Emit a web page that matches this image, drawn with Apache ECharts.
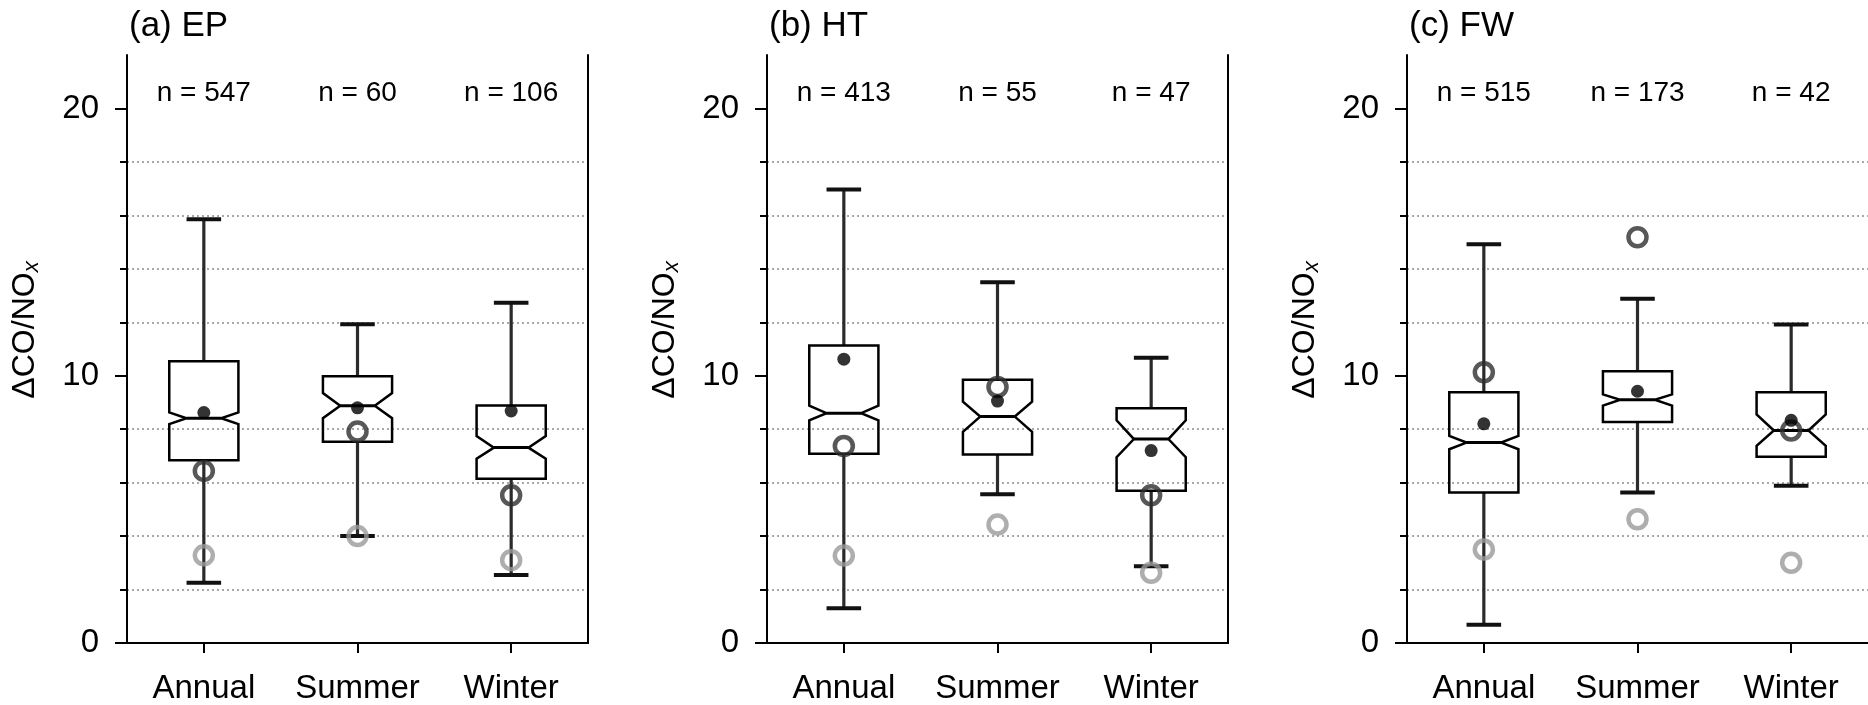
<!DOCTYPE html>
<html>
<head>
<meta charset="utf-8">
<script src="https://cdn.jsdelivr.net/npm/echarts@6/dist/echarts.min.js"></script>
<style>
  html, body { margin: 0; padding: 0; background: #fff; }
  #chart { width: 1868px; height: 705px; }
</style>
</head>
<body>
<div id="chart"></div>
<script>
// Seasonal ΔCO/NOx distributions for three site types (EP, HT, FW)
const categories = ['Annual', 'Summer', 'Winter'];
const panelTitles = ['(a) EP', '(b) HT', '(c) FW'];
const yTickLabels = [0, 10, 20];
const yMinorTicks = [2, 4, 6, 8, 12, 14, 16, 18];

// per panel: [Annual, Summer, Winter]
const sampleCounts = [[547, 60, 106], [413, 55, 47], [515, 173, 42]];
const whiskerLow   = [[2.25, 4.00, 2.54], [1.30, 5.57, 2.87], [0.68, 5.63, 5.88]];
const quartile1    = [[6.84, 7.53, 6.15], [7.08, 7.05, 5.70], [5.63, 8.27, 6.97]];
const medians      = [[8.41, 8.88, 7.31], [8.60, 8.47, 7.63], [7.50, 9.10, 7.95]];
const quartile3    = [[10.54, 9.98, 8.89], [11.13, 9.85, 8.78], [9.38, 10.17, 9.38]];
const whiskerHigh  = [[15.85, 11.93, 12.73], [16.97, 13.50, 10.67], [14.92, 12.88, 11.92]];
const notchLow     = [[8.19, 8.41, 6.90], [8.33, 7.90, 6.95], [7.25, 8.88, 7.38]];
const notchHigh    = [[8.63, 9.35, 7.74], [8.88, 9.03, 8.33], [7.75, 9.30, 8.55]];
const means        = [[8.62, 8.80, 8.68], [10.62, 9.05, 7.20], [8.20, 9.42, 8.33]];
const ratioDark    = [[6.44, 7.91, 5.53], [7.37, 9.58, 5.53], [10.13, 15.18, 7.95]];
const ratioGray    = [[3.28, 4.00, 3.10], [3.27, 4.43, 2.63], [3.50, 4.63, 3.00]];

const FONT = '"Liberation Sans", Arial, Helvetica, sans-serif';
const panelLeft = [127, 767, 1407];
const panelWidth = 461;
const panelTop = 55;
const panelHeight = 594;
const BOX_WIDTH = 0.45;

function renderBox(params, api) {
  const i = api.value(0);
  const y = v => api.coord([i, v])[1];
  const cx = api.coord([i, api.value(3)])[0];
  const band = api.size([1, 0])[0];
  const hw = band * BOX_WIDTH / 2;
  const nw = hw / 2;
  const yLo = y(api.value(1)), yQ1 = y(api.value(2)), yMed = y(api.value(3));
  const yQ3 = y(api.value(4)), yHi = y(api.value(5));
  const yNlo = y(api.value(6)), yNhi = y(api.value(7));
  const n = api.value(8);
  const whisker = { stroke: '#2b2b2b', lineWidth: 3.2 };
  const cap = { stroke: '#111', lineWidth: 4 };
  return {
    type: 'group',
    children: [
      { type: 'line', shape: { x1: cx, y1: yQ3, x2: cx, y2: yHi }, style: whisker },
      { type: 'line', shape: { x1: cx, y1: yQ1, x2: cx, y2: yLo }, style: whisker },
      { type: 'line', shape: { x1: cx - nw, y1: yHi, x2: cx + nw, y2: yHi }, style: cap },
      { type: 'line', shape: { x1: cx - nw, y1: yLo, x2: cx + nw, y2: yLo }, style: cap },
      {
        type: 'polygon',
        shape: {
          points: [
            [cx - hw, yQ1], [cx + hw, yQ1], [cx + hw, yNlo], [cx + nw, yMed],
            [cx + hw, yNhi], [cx + hw, yQ3], [cx - hw, yQ3], [cx - hw, yNhi],
            [cx - nw, yMed], [cx - hw, yNlo]
          ]
        },
        style: { fill: 'none', stroke: '#000', lineWidth: 2.5, lineJoin: 'miter' }
      },
      { type: 'line', shape: { x1: cx - nw, y1: yMed, x2: cx + nw, y2: yMed }, style: { stroke: '#000', lineWidth: 3 } },
      {
        type: 'text',
        style: {
          text: 'n = ' + n, x: cx, y: params.coordSys.y + 38,
          align: 'center', verticalAlign: 'middle',
          fontSize: 28, fontFamily: FONT, fill: '#000'
        }
      }
    ]
  };
}

const grid = [], xAxis = [], yAxis = [], series = [], title = [];

for (let k = 0; k < 3; k++) {
  grid.push({ left: panelLeft[k], top: panelTop, width: panelWidth, height: panelHeight, containLabel: false });

  title.push({
    text: panelTitles[k], left: panelLeft[k] - 3, top: 4,
    textStyle: { fontSize: 35, fontWeight: 'normal', color: '#000', fontFamily: FONT }
  });

  const xi = xAxis.length;
  xAxis.push({
    gridIndex: k, type: 'category', data: categories, position: 'bottom', boundaryGap: true,
    axisLine: { show: true, lineStyle: { color: '#000', width: 2 } },
    axisTick: { show: true, alignWithLabel: true, length: 10, lineStyle: { color: '#000', width: 2 } },
    axisLabel: { interval: 0, hideOverlap: false, fontSize: 33, color: '#000', margin: 29, fontFamily: FONT },
    splitLine: { show: false }
  });
  xAxis.push({
    gridIndex: k, type: 'category', data: categories, position: 'top',
    axisLine: { show: true, lineStyle: { color: '#000', width: 2 } },
    axisTick: { show: false }, axisLabel: { show: false }, splitLine: { show: false }
  });

  const yi = yAxis.length;
  yAxis.push({
    gridIndex: k, type: 'value', min: 0, max: 22, interval: 2, position: 'left',
    name: '{m|ΔCO/NO}{s|x}', nameLocation: 'middle', nameRotate: 90, nameGap: 84,
    nameTextStyle: {
      color: '#000', fontFamily: FONT, padding: [0, 0, 0, 38],
      rich: {
        m: { fontSize: 32, fontFamily: FONT, color: '#000', verticalAlign: 'top', lineHeight: 34 },
        s: { fontSize: 22, fontFamily: FONT, color: '#000', fontStyle: 'italic', verticalAlign: 'bottom', lineHeight: 22 }
      }
    },
    axisLine: { show: true, lineStyle: { color: '#000', width: 2 } },
    axisTick: { show: true, length: 7, customValues: yMinorTicks, lineStyle: { color: '#000', width: 2 } },
    axisLabel: { customValues: yTickLabels, fontSize: 33, color: '#000', margin: 28, fontFamily: FONT },
    splitLine: { show: true, lineStyle: { type: [2, 3], color: '#8c8c8c', width: 1.5 } }
  });
  yAxis.push({
    gridIndex: k, type: 'value', min: 0, max: 22, position: 'left',
    axisLine: { show: false },
    axisTick: { show: true, length: 12, customValues: yTickLabels, lineStyle: { color: '#000', width: 2 } },
    axisLabel: { show: false }, splitLine: { show: false }
  });
  if (k < 2) {
    yAxis.push({
      gridIndex: k, type: 'value', min: 0, max: 22, position: 'right',
      axisLine: { show: true, lineStyle: { color: '#000', width: 2 } },
      axisTick: { show: false }, axisLabel: { show: false }, splitLine: { show: false }
    });
  }

  const boxData = categories.map((c, i) => [
    i, whiskerLow[k][i], quartile1[k][i], medians[k][i], quartile3[k][i], whiskerHigh[k][i],
    notchLow[k][i], notchHigh[k][i], sampleCounts[k][i]
  ]);
  series.push({
    type: 'custom', xAxisIndex: xi, yAxisIndex: yi, renderItem: renderBox,
    data: boxData, encode: { x: 0, y: [1, 2, 3, 4, 5] }, z: 3, silent: true
  });
  series.push({
    type: 'scatter', xAxisIndex: xi, yAxisIndex: yi, symbol: 'circle', symbolSize: 18,
    itemStyle: { color: 'rgba(0,0,0,0)', borderColor: '#9a9a9a', borderWidth: 4.5 },
    data: categories.map((c, i) => [i, ratioGray[k][i]]), z: 4, silent: true
  });
  series.push({
    type: 'scatter', xAxisIndex: xi, yAxisIndex: yi, symbol: 'circle', symbolSize: 18,
    itemStyle: { color: 'rgba(0,0,0,0)', borderColor: '#2e2e2e', borderWidth: 4.5 },
    data: categories.map((c, i) => [i, ratioDark[k][i]]), z: 5, silent: true
  });
  series.push({
    type: 'scatter', xAxisIndex: xi, yAxisIndex: yi, symbol: 'circle', symbolSize: 13,
    itemStyle: { color: '#000' },
    data: categories.map((c, i) => [i, means[k][i]]), z: 6, silent: true
  });
}

const chart = echarts.init(document.getElementById('chart'), null, { renderer: 'canvas' });
chart.setOption({
  animation: false,
  backgroundColor: '#fff',
  textStyle: { fontFamily: FONT },
  title, grid, xAxis, yAxis, series
});
</script>
</body>
</html>
